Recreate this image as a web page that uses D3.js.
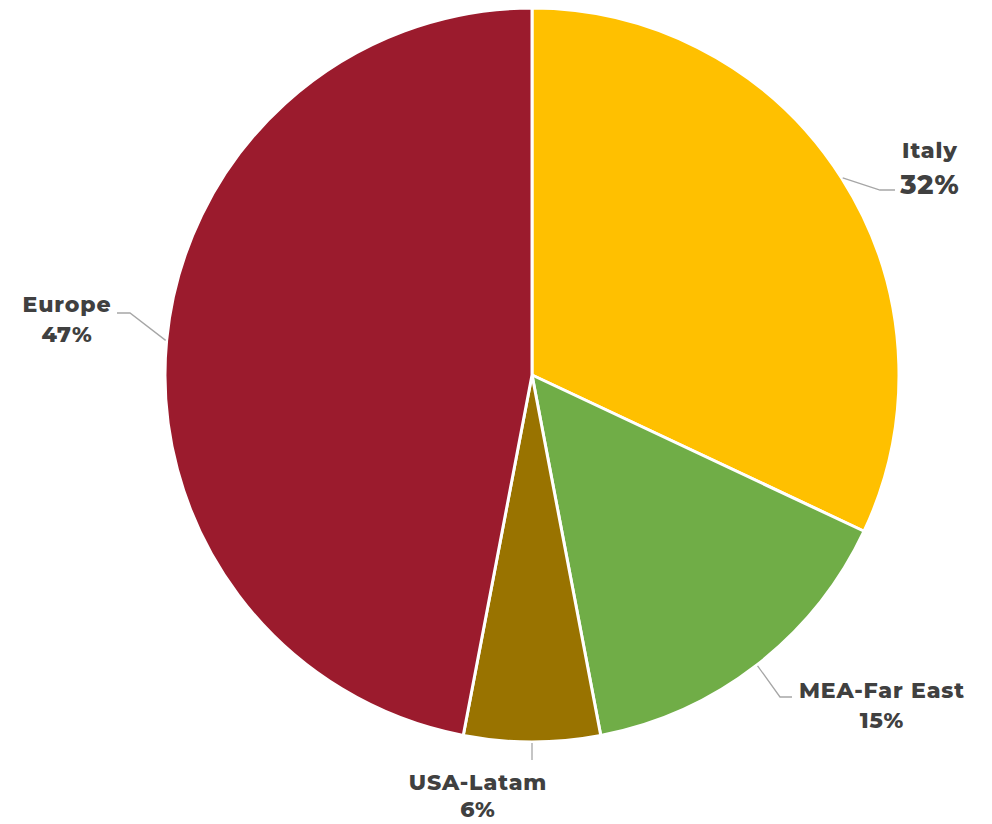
<!DOCTYPE html>
<html lang="en">
<head>
  <meta charset="UTF-8">
  <title>Revenue by Area</title>
  <script src="https://d3js.org/d3.v7.min.js"></script>
  <style>
    body { margin: 0; background: #fff; }
    .label text {
      font-family: "Montserrat", "Open Sans", "DejaVu Sans", sans-serif;
      font-weight: 800;
      fill: #404040;
      text-anchor: middle;
      letter-spacing: 0.9px;
    }
    .leader {
      fill: none;
      stroke: #a6a6a6;
      stroke-width: 1.3px;
    }
  </style>
</head>
<body>
  <svg width="992" height="824"></svg>
  <script>
    const areas = ["Italy", "MEA-Far East", "USA-Latam", "Europe"];
    const shares = [32, 15, 6, 47];
    const colors = ["#FFC000", "#70AD47", "#997300", "#9B1B2D"];

    const cx = 532, cy = 375, radius = 367;

    // label placement: elbow end of the leader, text centre, baselines
    const labelPos = [
      { ex: 880, ey: 190, hx: 895, tx: 930, y1: 158, y2: 194, big: true },
      { ex: 780, ey: 697, hx: 792, tx: 882, y1: 698, y2: 728 },
      { ex: 532, ey: 760, hx: 532, tx: 478, y1: 790, y2: 817 },
      { ex: 130, ey: 313, hx: 117, tx: 67, y1: 312, y2: 342 }
    ];

    const data = areas.map((a, i) => ({ name: a, value: shares[i], color: colors[i], pos: labelPos[i] }));

    const svg = d3.select("svg");
    const g = svg.append("g").attr("transform", `translate(${cx},${cy})`);

    const pie = d3.pie().value(d => d.value).sort(null);
    const arc = d3.arc().innerRadius(0).outerRadius(radius);
    const arcs = pie(data);

    g.selectAll("path.slice")
      .data(arcs)
      .enter()
      .append("path")
      .attr("class", "slice")
      .attr("d", arc)
      .attr("fill", d => d.data.color)
      .attr("stroke", "#fff")
      .attr("stroke-width", 3)
      .attr("stroke-linejoin", "round");

    // leader lines
    svg.append("g")
      .selectAll("polyline")
      .data(arcs)
      .enter()
      .append("polyline")
      .attr("class", "leader")
      .attr("points", d => {
        const a = (d.startAngle + d.endAngle) / 2;
        const px = cx + (radius + 1) * Math.sin(a);
        const py = cy - (radius + 1) * Math.cos(a);
        const p = d.data.pos;
        return `${px},${py} ${p.ex},${p.ey} ${p.hx},${p.ey}`;
      });

    const labels = svg.append("g")
      .attr("class", "label")
      .selectAll("g")
      .data(arcs)
      .enter()
      .append("g");

    labels.append("text")
      .attr("x", d => d.data.pos.tx)
      .attr("y", d => d.data.pos.y1)
      .style("font-size", "22px")
      .text(d => d.data.name);

    labels.append("text")
      .attr("x", d => d.data.pos.tx)
      .attr("y", d => d.data.pos.y2)
      .style("font-size", d => d.data.pos.big ? "27px" : "22px")
      .text(d => d.data.value + "%");
  </script>
</body>
</html>
